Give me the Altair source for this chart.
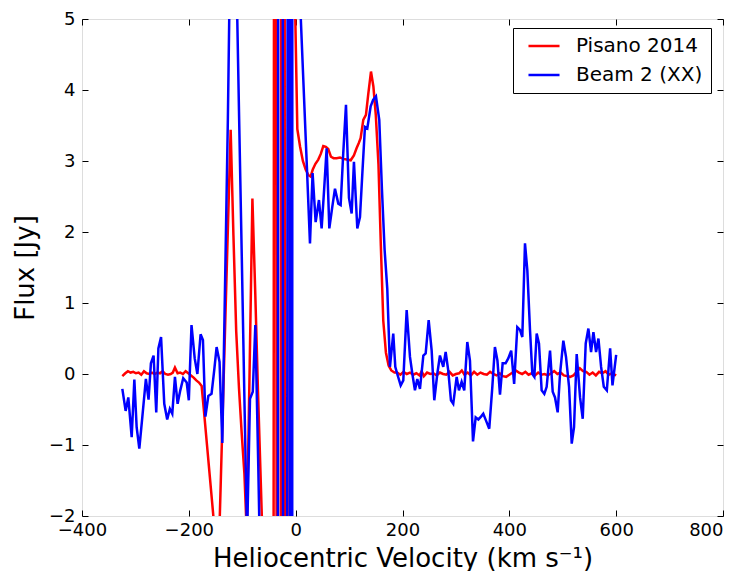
import altair as alt
import pandas as pd

# ---- data ----
red_v = [-324.5, -319, -314, -309, -304, -299, -294, -289, -284, -279, -274, -269, -264, -259, -254,
         -249, -244, -239, -234, -230, -226, -221, -216, -211, -206, -201, -196, -191, -186, -181,
         -176, -171, -166, -161, -156, -150, -145, -140, -121.7, -116.5, -111.3, -106.1, -100.9, -96.0,
         -91.5, -86.0, -81.0, -75.5, -70.5, -65.0, -59.3, -54.1, -48.9, -43.7, -38.5, -33.3, -28.1,
         -22.9, -17.7, -12.5, -7.3, -2.1, 3.1, 8.3, 13.5, 18.7, 24.0, 28.0, 32.0, 37.0, 42.3, 47.0,
         51.7, 56.5, 61.0, 66.0, 71.0, 76.7, 83.0, 89.0, 95.4, 103.0, 109.0, 114.0, 118.0, 121.6,
         126.6, 131.6, 136.0, 141.0, 145.5, 150.0, 155.0, 159.5, 164.0, 169.0, 174.0, 179.0, 185.0,
         190, 196, 202, 208, 214, 220, 226, 232, 236, 240, 246, 252, 258, 264, 270, 276, 282, 288,
         294, 300, 306, 311, 316, 322, 328, 334, 340, 346, 352, 358, 364, 370, 376, 382, 388, 394,
         400, 406, 412, 418, 424, 430, 436, 442, 448, 454, 460, 466, 472, 478, 484, 490, 496, 502,
         508, 514, 520, 526, 532, 538, 544, 550, 556, 562, 568, 574, 580, 586, 592, 600]
red_f = [-0.03, 0.01, 0.04, 0.02, 0.03, 0.01, 0.02, -0.01, 0.04, 0.01, 0.0, 0.02, 0.0, 0.02, 0.01,
         0.04, 0.0, -0.01, 0.0, 0.02, 0.09, 0.01, 0.02, 0.0, 0.04, 0.01, -0.02, -0.05, -0.09, -0.12,
         -0.17, -0.58, -1.0, -1.42, -1.84, -2.35, -2.8, -1.46, 3.44, 1.95, 0.6, -0.2, -0.85, -1.4,
         -2.25, 0.15, 2.47, 1.1, -0.25, -1.6, -3.0, -8, -15, -30, 30, -30, -5,
         60, -60, -10, 35, 5.6, 3.45, 3.2, 3.0, 2.88, 2.8, 2.78, 2.88, 2.96, 3.02, 3.1,
         3.21, 3.2, 3.17, 3.06, 3.04, 3.04, 3.05, 3.03, 3.02, 3.01, 3.08, 3.18, 3.25, 3.32,
         3.58, 3.65, 3.95, 4.26, 4.05, 3.65, 2.95, 1.8, 0.75, 0.3, 0.12, 0.05, 0.02,
         0.02, -0.01, 0.03, 0.0, 0.02, -0.01, 0.01, -0.02, 0.04, -0.03, 0.02, 0.0, 0.01, -0.02, 0.02, 0.0, -0.01, 0.03,
         -0.02, 0.0, 0.01, 0.05, -0.01, 0.02, -0.02, 0.03, -0.01, 0.02, 0.0, -0.01, 0.03, 0.0, -0.02, 0.01, -0.03, -0.04,
         -0.01, 0.02, 0.05, 0.02, 0.0, 0.03, -0.01, 0.01, -0.02, 0.02, -0.01, 0.0, -0.02, 0.01, 0.04, 0.0, 0.02, -0.02,
         -0.03, -0.04, -0.02, 0.03, 0.08, 0.04, 0.03, -0.01, 0.02, -0.02, 0.03, 0.01, 0.04, -0.01, 0.01, -0.02]

blue_v = [-324.5, -318.3, -313.3, -307.0, -302.0, -297.7, -292.7, -287.0, -280.4, -275.4, -271.0, -266.0,
          -261.0, -257.0, -252.0, -246.0, -240.5, -235.5, -231.0, -226.0, -221.0, -216.0, -210.5, -204.0,
          -200.0, -195.0, -189.0, -184.0, -178.0, -173.6, -169.0, -163.5, -157.5, -152.5, -148.0, -142.5,
          -137.3, -132.1, -126.9, -121.7, -116.5, -111.3, -106.1, -100.9, -95.7, -91.0, -85.5, -80.3,
          -75.5, -70.0, -64.5, -59.3, -54.1, -48.9, -43.7, -38.5, -33.3, -28.1, -22.9, -17.7, -12.5,
          -7.3, -2.1, 3.1, 8.0, 14.0, 20.0, 26.8, 31.7, 37.4, 43.6, 48.6, 53.3, 58.0, 63.0, 68.5, 73.6,
          79.8, 84.2, 89.0, 94.2, 99.8, 104.8, 109.1, 115.4, 120.4, 125.0, 129.7, 134.1, 140.4, 145.0,
          150.3, 156.5, 161.5, 166.5, 171.5, 176.5, 182.7, 186.5, 190.2, 196.6, 201.5, 207.8, 214.0,
          218.5, 223.3, 227.7, 232.7, 239.0, 243.4, 249.0, 254.6, 259.5, 265.1, 270.1, 276.3, 280.8,
          285.6, 290.7, 295.0, 301.4, 305.7, 310.7, 315.6, 321.3, 326.3, 332.0, 337.0, 342.0, 347.0,
          351.2, 356.0, 362.4, 368.0, 373.0, 377.7, 382.5, 387.5, 393.0, 398.0, 403.5, 409.0, 414.9,
          419.9, 424.3, 429.3, 433.7, 438.7, 443.1, 446.8, 451.2, 455.5, 460.5, 465.5, 469.9, 476.2,
          481.2, 485.5, 490.5, 494.9, 501.1, 506.1, 511.8, 516.8, 521.1, 526.1, 532.4, 537.4, 543.0,
          548.0, 553.0, 557.4, 562.4, 566.8, 571.8, 576.8, 582.5, 588.7, 593.1, 600.0]
blue_f = [-0.21, -0.52, -0.33, -0.89, -0.08, -0.75, -1.05, -0.6, -0.07, -0.36, 0.15, 0.26,
          -0.54, 0.36, 0.52, -0.42, -0.64, -0.49, -0.56, -0.04, -0.42, -0.23, -0.06, -0.12,
          -0.37, 0.69, 0.22, 0.0, 0.56, 0.48, -0.6, -0.31, -0.28, 0.05, 0.38, 0.17,
          -0.97, 1.3, 3.6, 6.5, 7.5, 5.8, 3.7, 1.66, -0.45, -2.3, -0.35, -0.25,
          0.69, -1.3, -3.5, -8, -15, -25, -40, -40, -3, 80, -16, -20, 31,
          -51, 240, 9, 5.3, 4.2, 3.1, 1.84, 2.83, 2.14, 2.45, 2.05, 2.6, 3.18, 2.05, 2.35, 2.61,
          2.40, 2.38, 3.1, 3.79, 2.48, 2.26, 2.99, 2.05, 2.21, 2.85, 3.48, 3.46, 3.77, 3.86,
          3.91, 3.58, 2.6, 1.75, 1.2, 0.1, 0.57, 0.1, 0.0, -0.16, -0.09, 0.9, 0.24,
          0.0, -0.23, -0.07, -0.21, 0.26, 0.29, 0.76, 0.33, -0.37, 0.0, 0.26, 0.1, 0.31,
          0.05, -0.37, -0.42, -0.04, -0.23, -0.11, -0.23, 0.45, 0.19, -0.95, -0.61, -0.64, -0.6,
          -0.56, -0.65, -0.77, -0.2, 0.38, 0.19, -0.29, 0.15, 0.15, 0.22, 0.33, -0.14, 0.66,
          0.62, 0.52, 1.84, 1.46, 0.62, 0.0, -0.04, 0.57, 0.43, -0.23, -0.28, -0.18, 0.33,
          -0.25, -0.33, -0.54, 0.0, 0.47, 0.24, -0.18, -0.98, -0.75, 0.28, -0.33, -0.63, 0.43,
          0.64, 0.31, 0.59, 0.31, 0.5, 0.1, -0.18, -0.23, 0.36, -0.16, 0.27]

series_names = ["Pisano 2014", "Beam 2 (XX)"]
series_colors = ["#ff0000", "#0000ff"]
x_ticks = [-400, -200, 0, 200, 400, 600, 800]
y_ticks = [-2, -1, 0, 1, 2, 3, 4, 5]
x_title = "Heliocentric Velocity (km s\u207b\u00b9)"
y_title = "Flux [Jy]"

df = pd.concat([
    pd.DataFrame({"v": red_v, "f": red_f, "series": series_names[0]}),
    pd.DataFrame({"v": blue_v, "f": blue_f, "series": series_names[1]}),
], ignore_index=True)

W, H = 641, 497
FONT = "DejaVu Sans"
xs = alt.Scale(domain=[-400, 800], nice=False, zero=False)
ys = alt.Scale(domain=[-2, 5], nice=False, zero=False)
color = alt.Color(
    "series:N",
    scale=alt.Scale(domain=series_names, range=series_colors),
    legend=alt.Legend(
        title=None, orient="none", legendX=431, legendY=9,
        symbolType="M-2.07,0H2.07", symbolStrokeWidth=2.5, symbolSize=225,
        symbolFillColor="transparent", symbolOffset=13,
        labelFontSize=20, labelFont=FONT, labelColor="black", labelOffset=22,
        strokeColor="black", fillColor="white", padding=8, rowPadding=9,
        cornerRadius=0, labelLimit=400,
    ),
)

base = alt.Chart(df)

main_x_axis = alt.Axis(values=x_ticks, title=x_title, ticks=False, domain=False, grid=False,
                       labelFont=FONT, labelFontSize=18, labelColor="black", labelPadding=5,
                       labelAlign=alt.expr("datum.value == 800 ? 'right' : 'center'"),
                       titleFont=FONT, titleFontSize=26, titleFontWeight="normal",
                       titleColor="black", titlePadding=6, labelFlush=False)
main_y_axis = alt.Axis(values=y_ticks, title=y_title, ticks=False, domain=False, grid=False,
                       labelFont=FONT, labelFontSize=18, labelColor="black", labelPadding=7,
                       titleFont=FONT, titleFontSize=26, titleFontWeight="normal",
                       titleColor="black", titlePadding=10, labelFlush=False)

red = base.transform_filter(alt.datum.series == series_names[0]).mark_line(
    clip=True, strokeWidth=2.5).encode(
    x=alt.X("v:Q", scale=xs, axis=main_x_axis),
    y=alt.Y("f:Q", scale=ys, axis=main_y_axis),
    color=color,
)
blue = base.transform_filter(alt.datum.series == series_names[1]).mark_line(
    clip=True, strokeWidth=2.5).encode(
    x=alt.X("v:Q", scale=xs, axis=None),
    y=alt.Y("f:Q", scale=ys, axis=None),
    color=color,
)


def tick_axis(orient, offset, values):
    return alt.Axis(orient=orient, offset=offset, values=values, labels=False, domain=False,
                    grid=False, ticks=True, tickSize=6, tickColor="black", tickWidth=1, title=None)


ticks_a = base.mark_point(opacity=0, clip=True).encode(
    x=alt.X("v:Q", scale=xs, axis=tick_axis("top", -H, x_ticks)),
    y=alt.Y("f:Q", scale=ys, axis=tick_axis("right", -W, y_ticks)),
)
ticks_b = base.mark_point(opacity=0, clip=True).encode(
    x=alt.X("v:Q", scale=xs, axis=tick_axis("bottom", -H, x_ticks)),
    y=alt.Y("f:Q", scale=ys, axis=tick_axis("left", -W, y_ticks)),
)

chart = alt.layer(red, blue, ticks_a, ticks_b).resolve_axis(
    x="independent", y="independent"
).properties(
    width=W, height=H,
    autosize=alt.AutoSizeParams(type="none"),
    padding={"left": 74, "top": 11, "right": 12, "bottom": 55},
).configure_view(stroke="black", strokeWidth=1.2).configure(background="white")

chart.save("out.html", embed_options={"renderer": "svg", "actions": False})
